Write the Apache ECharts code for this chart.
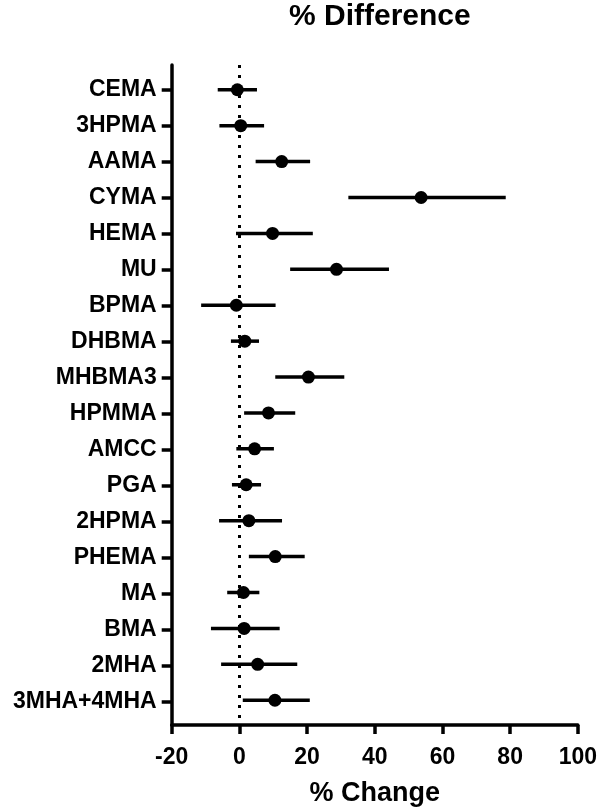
<!DOCTYPE html>
<html>
<head>
<meta charset="utf-8">
<script src="https://cdn.jsdelivr.net/npm/echarts@6/dist/echarts.min.js"></script>
<style>
  html, body { margin: 0; padding: 0; background: #fff; }
  #chart { width: 600px; height: 812px; }
</style>
</head>
<body>
<div id="chart"></div>
<script>
// metabolites, top to bottom
const categories = ["CEMA", "3HPMA", "AAMA", "CYMA", "HEMA", "MU", "BPMA", "DHBMA", "MHBMA3",
  "HPMMA", "AMCC", "PGA", "2HPMA", "PHEMA", "MA", "BMA", "2MHA", "3MHA+4MHA"];
// % change estimate and 95% CI
const estimate = [-0.6, 0.4, 12.5, 53.7, 9.8, 28.7, -0.9, 1.6, 20.4, 8.6, 4.5, 2.0, 2.8, 10.6, 1.2, 1.4, 5.4, 10.5];
const lower = [-6.4, -5.9, 4.8, 32.2, -1.0, 15.0, -11.3, -2.5, 10.6, 1.4, -0.9, -2.2, -6.0, 2.8, -3.6, -8.4, -5.4, 1.0];
const upper = [5.2, 7.3, 20.9, 78.7, 21.7, 44.2, 10.7, 5.8, 31.0, 16.5, 10.2, 6.4, 12.6, 19.3, 5.9, 11.9, 17.1, 20.8];
const xTicks = { min: -20, max: 100, interval: 20 };

const font = "Liberation Sans, Arial, sans-serif";
const chart = echarts.init(document.getElementById("chart"));

const option = {
  backgroundColor: "#fff",
  animation: false,
  title: {
    text: "% Difference",
    left: 284,
    top: -3,
    textStyle: { fontFamily: font, fontSize: 30, fontWeight: "bold", color: "#000" }
  },
  grid: [
    // grid 0: only carries the category labels and ticks
    { left: 171.7, right: 20.7, top: 72, bottom: 92 },
    // grid 1: data + axis lines
    { left: 171.7, right: 20.7, top: 65, bottom: 85 }
  ],
  xAxis: [
    { gridIndex: 0, type: "value", min: xTicks.min, max: xTicks.max, show: false },
    {
      gridIndex: 1,
      type: "value",
      min: xTicks.min,
      max: xTicks.max,
      interval: xTicks.interval,
      name: "% Change",
      nameLocation: "middle",
      nameGap: 55,
      nameTextStyle: { fontFamily: font, fontSize: 27, fontWeight: "bold", color: "#000" },
      axisLine: { show: true, onZero: false, lineStyle: { color: "#000", width: 3.5 } },
      axisTick: { show: true, length: 9, lineStyle: { color: "#000", width: 3.5 } },
      axisLabel: { fontFamily: font, fontSize: 23, fontWeight: "bold", color: "#000", margin: 21 },
      splitLine: { show: false }
    }
  ],
  yAxis: [
    {
      gridIndex: 0,
      type: "category",
      inverse: true,
      data: categories,
      axisLine: { show: false, onZero: false },
      axisTick: { show: true, alignWithLabel: true, length: 10, lineStyle: { color: "#000", width: 3.5 } },
      axisLabel: {
        fontFamily: font, fontSize: 23, fontWeight: "bold", color: "#000",
        margin: 15, padding: [7, 0, 0, 0]
      },
      splitLine: { show: false }
    },
    {
      gridIndex: 1,
      type: "value",
      inverse: true,
      min: -0.69,
      max: 17.69,
      axisLine: { show: true, onZero: false, lineStyle: { color: "#000", width: 3.5 } },
      axisTick: { show: false },
      axisLabel: { show: false },
      splitLine: { show: false }
    }
  ],
  series: [
    {
      name: "CI",
      type: "custom",
      xAxisIndex: 1,
      yAxisIndex: 1,
      data: lower.map((l, i) => [l, upper[i], i]),
      encode: { x: [0, 1], y: 2 },
      renderItem: (params, api) => {
        const y = api.value(2);
        const p1 = api.coord([api.value(0), y]);
        const p2 = api.coord([api.value(1), y]);
        return {
          type: "line",
          shape: { x1: p1[0], y1: p1[1], x2: p2[0], y2: p2[1] },
          style: { stroke: "#000", lineWidth: 3.5 }
        };
      },
      z: 2
    },
    {
      name: "Estimate",
      type: "scatter",
      xAxisIndex: 1,
      yAxisIndex: 1,
      data: estimate.map((v, i) => [v, i]),
      symbol: "circle",
      symbolSize: 13,
      itemStyle: { color: "#000", opacity: 1 },
      z: 3,
      markLine: {
        silent: true,
        symbol: "none",
        label: { show: false },
        lineStyle: { color: "#000", width: 3, type: [3, 7] },
        data: [{ xAxis: 0 }]
      }
    }
  ]
};

chart.setOption(option);
</script>
</body>
</html>
